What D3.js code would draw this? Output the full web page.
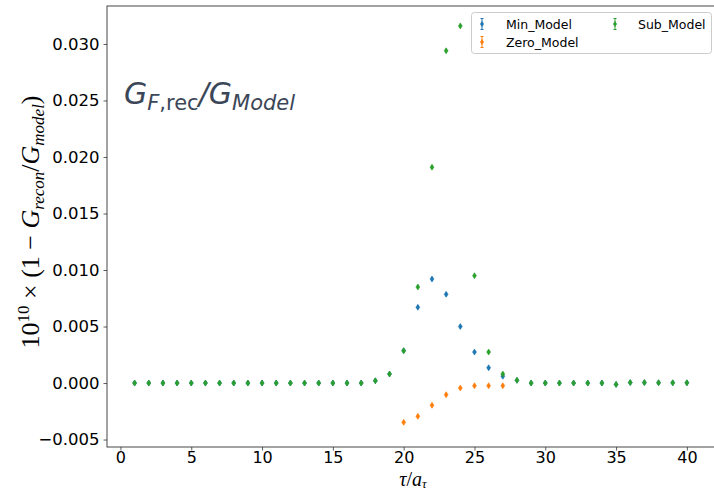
<!DOCTYPE html>
<html><head><meta charset="utf-8">
<script src="https://cdn.jsdelivr.net/npm/d3@7"></script>
<style>body{margin:0;background:#fff}svg{display:block}</style>
</head><body>
<script>
// ---- data ----
const tauAll = d3.range(1, 41);
const subModel = [0,0,0,0,0,0,0,0,0,0,0,0,0,0,0,0,0,0.0002,0.0008,0.00286,
  0.0085,0.0191,0.0294,0.0316,0.0095,0.00274,0.0008,0.00024,0,0,
  0,0,0,0,-0.00012,0.00004,0.00004,0.00003,0.00002,0.00002];
const minModel = [0,0,0,0,0,0,0,0,0,0,0,0,0,0,0,0,0,0.0002,0.0008,0.00286,
  0.0067,0.0092,0.00785,0.0050,0.00274,0.00135,0.0006,0.00024,0,0,
  0,0,0,0,-0.00012,0.00004,0.00004,0.00003,0.00002,0.00002];
const tauZero = [20,21,22,23,24,25,26,27];
const zeroModel = [-0.00348,-0.00295,-0.00197,-0.00103,-0.00044,-0.00024,-0.00024,-0.00024];
const errSize = 0.00008;
const xTicks = [0,5,10,15,20,25,30,35,40];
const yTicks = [-0.005,0,0.005,0.010,0.015,0.020,0.025,0.030];
const seriesNames = ["Min_Model","Zero_Model","Sub_Model"];
const colors = ["#1f77b4","#ff7f0e","#2ca02c"];

const W=714,H=491;
const L=107,R=714.5,T=6,B=447;
const svg=d3.select("body").append("svg").attr("width",W).attr("height",H);
const x=d3.scaleLinear().domain([-0.95,41.95]).range([L,R]);
const y=d3.scaleLinear().domain([-0.00566,0.03336]).range([B,T]);

// axes
const fmt=v=>d3.format(".3f")(v).replace("-","\u2212");
const xa=svg.append("g").attr("transform",`translate(0,${B})`)
  .call(d3.axisBottom(x).tickValues(xTicks).tickSize(3.5).tickPadding(1.5));
const ya=svg.append("g").attr("transform",`translate(${L},0)`)
  .call(d3.axisLeft(y).tickValues(yTicks).tickFormat(fmt).tickSize(3.5).tickPadding(4));
[xa,ya].forEach(a=>{a.select(".domain").remove();
  a.selectAll("text").attr("font-family","DejaVu Sans").attr("font-size",16.5).attr("fill","#000");
  a.selectAll("line").attr("stroke","#333").attr("stroke-width",0.8);});
xa.selectAll("text").attr("font-size",16);
svg.append("rect").attr("x",L).attr("y",T).attr("width",R-L).attr("height",B-T)
  .attr("fill","none").attr("stroke","#333").attr("stroke-width",0.9);

// series
function drawSeries(xs, vals, color){
  const g=svg.append("g");
  xs.forEach((t,i)=>{
    const cx=x(t), cy=y(vals[i]);
    const y1=y(vals[i]+errSize), y2=y(vals[i]-errSize);
    g.append("line").attr("x1",cx).attr("x2",cx).attr("y1",y1-1.5).attr("y2",y2+1.5)
      .attr("stroke",color).attr("stroke-width",1);
    g.append("path").attr("d",`M${cx},${cy-3}L${cx+2},${cy}L${cx},${cy+3}L${cx-2},${cy}Z`)
      .attr("fill",color).attr("stroke",color).attr("stroke-width",0.5);
  });
}
drawSeries(tauAll,minModel,colors[0]);
drawSeries(tauZero,zeroModel,colors[1]);
drawSeries(tauAll,subModel,colors[2]);

// legend
const lg=svg.append("g");
lg.append("rect").attr("x",471.5).attr("y",12.5).attr("width",240).attr("height",41).attr("rx",3)
  .attr("fill","#fff").attr("fill-opacity",0.8).attr("stroke","#ccc").attr("stroke-width",1);
const lpos=[[482,24,506],[482,42,506],[615,24,638]];
seriesNames.forEach((n,i)=>{
  const [mx,my,tx]=lpos[i], c=colors[i];
  lg.append("line").attr("x1",mx).attr("x2",mx).attr("y1",my-5.5).attr("y2",my+5.5).attr("stroke",c).attr("stroke-width",1);
  lg.append("line").attr("x1",mx-1.5).attr("x2",mx+1.5).attr("y1",my-5.5).attr("y2",my-5.5).attr("stroke",c).attr("stroke-width",1);
  lg.append("line").attr("x1",mx-1.5).attr("x2",mx+1.5).attr("y1",my+5.5).attr("y2",my+5.5).attr("stroke",c).attr("stroke-width",1);
  lg.append("path").attr("d",`M${mx},${my-3}L${mx+2},${my}L${mx},${my+3}L${mx-2},${my}Z`).attr("fill",c);
  lg.append("text").attr("x",tx).attr("y",my+4.5).attr("font-family","DejaVu Sans").attr("font-size",12.5).text(n);
});

// title annotation
const tt=svg.append("text").attr("x",124).attr("y",104).attr("font-family","DejaVu Sans")
  .attr("fill","#3b4758").attr("font-size",30);
tt.append("tspan").attr("font-style","italic").text("G");
tt.append("tspan").attr("font-size",21).attr("dy",6).attr("font-style","italic").text("F");
tt.append("tspan").attr("font-size",21).text(",rec");
tt.append("tspan").attr("dy",-6).attr("font-style","italic").text("/G");
tt.append("tspan").attr("font-size",21).attr("dy",6).attr("font-style","italic").text("Model");

// y label
const yl=svg.append("text").attr("transform","translate(39,222) rotate(-90)").attr("text-anchor","middle")
  .attr("font-family","Liberation Serif").attr("font-size",26).attr("fill","#000");
yl.append("tspan").text("10");
yl.append("tspan").attr("font-size",17).attr("dy",-10).text("10");
yl.append("tspan").attr("dy",10).text(" \u00d7 (1 \u2212 ");
yl.append("tspan").attr("font-style","italic").text("G");
yl.append("tspan").attr("font-style","italic").attr("font-size",17).attr("dy",5).text("recon");
yl.append("tspan").attr("dy",-5).text("/");
yl.append("tspan").attr("font-style","italic").text("G");
yl.append("tspan").attr("font-style","italic").attr("font-size",17).attr("dy",5).text("model");
yl.append("tspan").attr("dy",-5).text(")");

// x label
const xl=svg.append("text").attr("x",413).attr("y",486).attr("text-anchor","middle")
  .attr("font-family","Liberation Serif").attr("font-size",20).attr("fill","#000");
xl.append("tspan").attr("font-style","italic").text("\u03c4");
xl.append("tspan").text("/");
xl.append("tspan").attr("font-style","italic").text("a");
xl.append("tspan").attr("font-style","italic").attr("font-size",13).attr("dy",1.5).text("\u03c4");
</script>
</body></html>
